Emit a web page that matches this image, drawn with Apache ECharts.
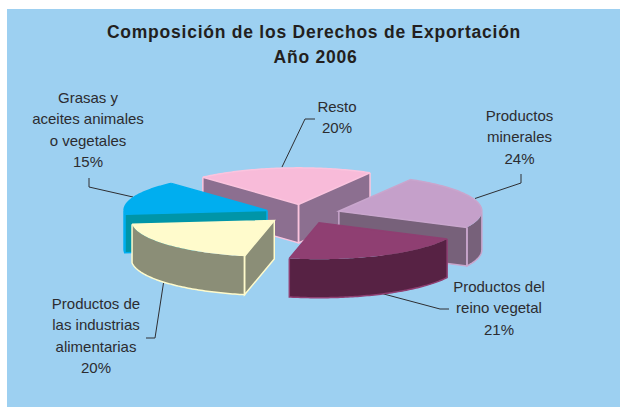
<!DOCTYPE html>
<html><head><meta charset="utf-8">
<style>html,body{margin:0;padding:0;background:#fff}#c{width:620px;height:407px}
svg text[style*="bold"]{letter-spacing:.76px}</style>
<script src="https://cdn.jsdelivr.net/npm/echarts@6/dist/echarts.min.js"></script>
</head><body><div id="c"></div>
<script>
const categories = ['Resto','Productos minerales','Productos del reino vegetal','Productos de las industrias alimentarias','Grasas y aceites animales o vegetales'];
const labelLines = [['Resto'],['Productos','minerales'],['Productos del','reino vegetal'],['Productos de','las industrias','alimentarias'],['Grasas y','aceites animales','o vegetales']];
const values = [20,24,21,20,15];
const titleLines = ['Composición de los Derechos de Exportación','Año 2006'];

const topColors  = ['#f8bbd9','#c5a0ca','#8f3f72','#fffbcc','#00aeef'];
const wallColors = ['#8c6f90','#77617a','#572244','#8b8e77','#0095a8'];
const edgeColors = ['#fbc4de','#c9a6cd','#8f3f72','#fffbcc','#00aeef'];
const paintOrder = [0,1,4,2,3];
const labelCentres = [[337,106],[519.5,115],[499,286],[96,303],[88,97]];
const leaders = [
  [[282,167],[305,119],[315,119]],
  [[475,198.5],[521,183],[521,174]],
  [[380,293],[440,309],[449,309]],
  [[163.5,283],[155,338],[146,338]],
  [[89,178],[89,187],[133,197]]
];
const pie = {cx:302.5, cy:214, rx:143, ry:36.5, depth:38.5, explode:38, start:132};
const LH = 21.6;

const total = values.reduce((a,b)=>a+b,0);
const pt = (cx,cy,deg,dz)=>{const r=deg*Math.PI/180;return [cx+pie.rx*Math.cos(r), cy-pie.ry*Math.sin(r)+(dz||0)];};
const cosd = a=>Math.cos(a*Math.PI/180);

function arcRange(cx,cy,hi,lo,dz){
  const out=[];
  for(let a=hi;a>lo;a-=1) out.push(pt(cx,cy,a,dz));
  out.push(pt(cx,cy,lo,dz));
  return out;
}

function renderItem(params, api){
  const i = params.dataIndex;
  let before = 0; for(let k=0;k<i;k++) before += values[k];
  const sweep = api.value(0)/total*360;
  const a0 = pie.start - before/total*360, a1 = a0 - sweep;
  const mid = (a0+a1)/2*Math.PI/180;
  const cx = pie.cx + pie.explode*Math.cos(mid);
  const cy = pie.cy - pie.explode*pie.ry/pie.rx*Math.sin(mid);
  const order = paintOrder.indexOf(i);
  const d = pie.depth;
  const children = [];
  const fillPoly = (pts,fill,z)=>children.push({type:'polygon',shape:{points:pts},style:{fill:fill,stroke:null},z2:order*10+z});
  const line = (pts,z)=>children.push({type:'polyline',shape:{points:pts},style:{fill:null,stroke:edgeColors[i],lineWidth:1.5},z2:order*10+z});
  const apexB = [cx,cy+d];
  // radial walls that face the viewer
  if(cosd(a0)<0){
    fillPoly([[cx,cy],pt(cx,cy,a0),pt(cx,cy,a0,d),apexB],wallColors[i],1);
    line([pt(cx,cy,a0),pt(cx,cy,a0,d),apexB,[cx,cy]],5);
  }
  if(cosd(a1)>0){
    fillPoly([[cx,cy],pt(cx,cy,a1),pt(cx,cy,a1,d),apexB],wallColors[i],1);
    line([pt(cx,cy,a1),pt(cx,cy,a1,d),apexB,[cx,cy]],5);
  }
  // outer wall: only the front half of the rim shows
  const lo=Math.max(a1,-180), hi=Math.min(a0,0);
  if(hi>lo){
    const up=arcRange(cx,cy,hi,lo,0), dn=arcRange(cx,cy,hi,lo,d);
    fillPoly(up.concat(dn.slice().reverse()),wallColors[i],2);
    line([up[0]].concat(dn,[up[up.length-1]]),5);
  }
  // top face, with its rim outlined only along the back
  fillPoly([[cx,cy]].concat(arcRange(cx,cy,a0,a1,0)),topColors[i],3);
  line([pt(cx,cy,a0),[cx,cy],pt(cx,cy,a1)],6);
  const bLo=Math.max(a1,0), bHi=a0;
  if(bHi>bLo) line(arcRange(cx,cy,bHi,bLo,0),6);
  const bLo2=a1, bHi2=Math.min(a0,-180);
  if(bHi2>bLo2) line(arcRange(cx,cy,bHi2,bLo2,0),6);
  return {type:'group',children};
}

const textStyle = {fontFamily:'"Liberation Sans",Arial,sans-serif',fill:'#2c2c30',fontSize:15,textAlign:'center',textVerticalAlign:'middle'};
const graphics = [{type:'rect',shape:{x:7,y:9,width:613,height:398},style:{fill:'#9dd0f1'},z:-10}];
leaders.forEach(p=>graphics.push({type:'polyline',shape:{points:p},style:{stroke:'#2e2e32',lineWidth:1,fill:null},z:-5}));
values.forEach((v,i)=>{
  const ls = labelLines[i].concat([v+'%']);
  ls.forEach((t,j)=>graphics.push({type:'text',x:labelCentres[i][0],y:labelCentres[i][1]+j*LH,style:Object.assign({},textStyle,{text:t}),z:20}));
});
titleLines.forEach((t,j)=>graphics.push({type:'text',x:j?315.5:314,y:32+j*25,style:Object.assign({},textStyle,{text:t,fontSize:17.5,fontWeight:'bold',fill:'#231f20'}),z:20}));

const chart = echarts.init(document.getElementById('c'),null,{renderer:'svg'});
chart.setOption({
  animation:false,
  backgroundColor:'#ffffff',
  graphic:graphics,
  series:[{type:'custom',coordinateSystem:'none',clip:false,renderItem,
    data:values.map((v,i)=>({name:categories[i],value:[v]}))}]
});
</script></body></html>
